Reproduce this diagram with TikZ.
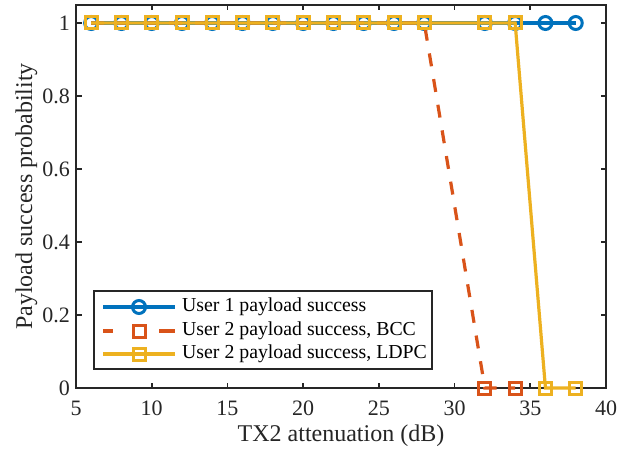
\documentclass[tikz,border=0pt]{standalone}
\usepackage{fontspec}
\setmainfont{Liberation Serif}
\definecolor{mblue}{rgb}{0,0.447,0.741}
\definecolor{morange}{rgb}{0.850,0.325,0.098}
\definecolor{myellow}{rgb}{0.929,0.694,0.125}
\definecolor{axgray}{gray}{0.15}
\begin{document}
\begin{tikzpicture}[x=1pt,y=1pt,
  axline/.style={draw=axgray, line width=1.7pt},
  ticklab/.style={text=axgray, font=\fontsize{22}{26}\selectfont, inner sep=0pt},
  axlab/.style={text=axgray, font=\fontsize{24}{28}\selectfont, inner sep=0pt},
  legtext/.style={text=black, font=\fontsize{19.8}{23}\selectfont, inner sep=0pt, anchor=west},
  bline/.style={draw=mblue, line width=3.2pt},
  oline/.style={draw=morange, line width=3.2pt, dash pattern=on 13pt off 13pt},
  yline/.style={draw=myellow, line width=3.2pt},
  bmark/.style={circle, draw=mblue, line width=3pt, minimum size=13pt, inner sep=0pt},
  omark/.style={rectangle, draw=morange, line width=3pt, minimum size=12pt, inner sep=0pt},
  ymark/.style={rectangle, draw=myellow, line width=3pt, minimum size=12pt, inner sep=0pt},
]
\useasboundingbox (0,0) rectangle (629,453);
\fill[white] (0,0) rectangle (629,453);
\begin{scope}[shift={(0.285pt,65pt)}, x=15.143pt, y=365pt]
  % axes box and ticks
  \draw[axline] (5,0) rectangle (40,1.05);
  \foreach \x in {5,10,...,40} {
    \draw[axline] (\x,0) -- ++(0,5.5pt);
    \draw[axline] (\x,1.05) -- ++(0,-5.5pt);
    \node[ticklab, anchor=base, yshift=-27pt] (xt\x) at (\x,0) {\x};
  }
  \foreach \y/\t in {0/0,0.2/0.2,0.4/0.4,0.6/0.6,0.8/0.8,1/1} {
    \draw[axline] (5,\y) -- ++(5.5pt,0);
    \draw[axline] (40,\y) -- ++(-5.5pt,0);
    \node[ticklab, anchor=east, xshift=-6pt] (yt\t) at (5,\y) {\t};
  }
  % User 1
  \foreach \x in {6,8,...,28,32,34,36,38} \coordinate (b\x) at (\x,1);
  \draw[bline] (b6) -- (b38);
  \foreach \x in {6,8,...,28,32,34,36,38} \node[bmark] (bm\x) at (b\x) {};
  % User 2 BCC
  \foreach \x in {6,8,...,28} \coordinate (o\x) at (\x,1);
  \coordinate (o32) at (32,0);
  \coordinate (o34) at (34,0);
  \draw[oline] (o6) -- (o28) -- (o32) -- (o34);
  \foreach \x in {6,8,...,28,32,34} \node[omark] (om\x) at (o\x) {};
  % User 2 LDPC
  \foreach \x in {6,8,...,28,32,34} \coordinate (y\x) at (\x,1);
  \coordinate (y36) at (36,0);
  \coordinate (y38) at (38,0);
  \draw[yline] (y6) -- (y34) -- (y36) -- (y38);
  \foreach \x in {6,8,...,28,32,34,36,38} \node[ymark] (ym\x) at (y\x) {};
\end{scope}
% axis labels
\node[axlab, anchor=base] (xlab) at (341,11.5) {TX2 attenuation (dB)};
\node[axlab, anchor=base, rotate=90] (ylab) at (32,256.5) {Payload success probability};
% legend
\draw[axline, fill=white] (94,84) rectangle (432,162);
\coordinate (l1a) at (103,146); \coordinate (l1b) at (175,146);
\coordinate (l2a) at (103,122); \coordinate (l2b) at (175,122);
\coordinate (l3a) at (103,99);  \coordinate (l3b) at (175,99);
\draw[bline] (l1a) -- (l1b);
\node[bmark] (lm1) at (139,146) {};
\draw[oline, dash pattern=on 10pt off 46pt on 16pt] (l2a) -- (l2b);
\node[omark] (lm2) at (139,122) {};
\draw[yline] (l3a) -- (l3b);
\node[ymark] (lm3) at (139,99) {};
\node[legtext] (lt1) at (182,146) {User 1 payload success};
\node[legtext] (lt2) at (182,122) {User 2 payload success, BCC};
\node[legtext] (lt3) at (182,99) {User 2 payload success, LDPC};
\end{tikzpicture}
\end{document}
